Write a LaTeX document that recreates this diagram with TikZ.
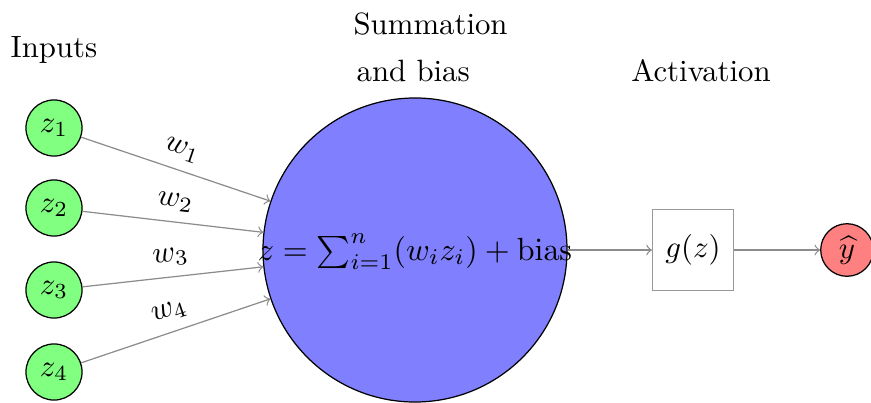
\documentclass[tikz,border=0pt]{standalone}
\begin{document}
\begin{tikzpicture}[x=0.01141cm,y=-0.01141cm,
  incirc/.style={circle,draw=black,fill=green!50,minimum size=0.64cm,inner sep=0pt},
  sumcirc/.style={circle,draw=black,fill=blue!50,minimum size=3.47cm,inner sep=0pt},
  outcirc/.style={circle,draw=black,fill=red!50,minimum size=0.6cm,inner sep=0pt},
  actbox/.style={rectangle,draw=gray!80,minimum size=0.924cm,inner sep=0pt},
  arr/.style={->,draw=gray!90,thin},
  wlab/.style={midway,above,sloped}]
\useasboundingbox (0,0) rectangle (871,403);
\node[incirc] (z1) at (54,128) {$z_1$};
\node[incirc] (z2) at (54,208) {$z_2$};
\node[incirc] (z3) at (54,290) {$z_3$};
\node[incirc] (z4) at (54,372) {$z_4$};
\node[sumcirc] (s) at (415,250) {};
\node[inner sep=0pt,scale=1.04] (f) at (415,252) {$z=\sum_{i=1}^{n}(w_iz_i)+\mathrm{bias}$};
\node[actbox] (g) at (693,250) {$g(z)$};
\node[outcirc] (y) at (847,250) {$\widehat{y}$};
\draw[arr] (z1) -- (s) node[wlab] {$w_1$};
\draw[arr] (z2) -- (s) node[wlab] {$w_2$};
\draw[arr] (z3) -- (s) node[wlab] {$w_3$};
\draw[arr] (z4) -- (s) node[wlab] {$w_4$};
\draw[arr] (s.east) -- (g.west);
\draw[arr] (g.east) -- (y);
\node[anchor=base] (tin) at (54,57) {Inputs};
\node[anchor=base west,inner sep=0pt] (ts1) at (353,35) {Summation};
\node[anchor=base west,inner sep=0pt] (ts2) at (356,81) {and bias};
\node[anchor=base] (tact) at (701,82) {Activation};
\end{tikzpicture}
\end{document}
